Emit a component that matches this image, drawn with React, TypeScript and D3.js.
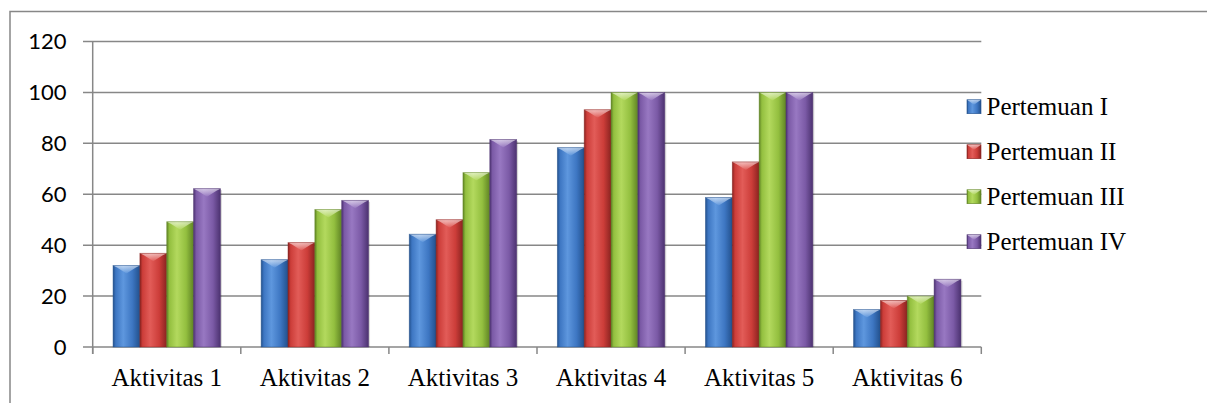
import React from 'react';
import * as d3 from 'd3';

const categories = ['Aktivitas 1', 'Aktivitas 2', 'Aktivitas 3', 'Aktivitas 4', 'Aktivitas 5', 'Aktivitas 6'];
const seriesNames = ['Pertemuan I', 'Pertemuan II', 'Pertemuan III', 'Pertemuan IV'];
const pertemuan1 = [32, 34.3, 44.3, 78.3, 58.7, 14.7];
const pertemuan2 = [36.8, 41, 50, 93.2, 72.7, 18.3];
const pertemuan3 = [49.2, 54, 68.5, 100, 100, 20];
const pertemuan4 = [62.2, 57.6, 81.5, 100, 100, 26.6];
const yTicks = [0, 20, 40, 60, 80, 100, 120];

const seriesValues = [pertemuan1, pertemuan2, pertemuan3, pertemuan4];
// base, light, dark per series
const palette = [
  ['#3d76c2', '#5e97de', '#22508c'],
  ['#cc3d39', '#e25c58', '#8a2320'],
  ['#93bf3f', '#b3d95e', '#5f8324'],
  ['#7b5aa6', '#9878c2', '#4c3270'],
];

const W = 1207;
const H = 403;
const left = 92.7;
const right = 981.3;
const top = 41.5;
const bottom = 347;

const App = () => {
  const x = d3.scaleBand().domain(categories).range([left, right]).paddingInner(0.275).paddingOuter(0.1375);
  const xs = d3.scaleBand().domain(seriesNames).range([0, x.bandwidth()]).padding(0);
  const y = d3.scaleLinear().domain([0, 120]).range([bottom, top]);
  const step = x.step();
  const tickXs = d3.range(categories.length + 1).map((i) => left + i * step);
  const grid = '#878787';

  const legendY = d3.scalePoint().domain(seriesNames).range([106.7, 241.7]);

  return (
    <div style={{ position: 'absolute', left: 0, top: 0, width: W, height: H, fontFamily: 'Times New Roman' }}>
      <svg width={W} height={H} style={{ display: 'block', background: '#fff' }}>
        <defs>
          {palette.map((p, i) => (
            <React.Fragment key={i}>
              <linearGradient id={`body${i}`} x1="0" x2="1" y1="0" y2="0">
                <stop offset="0%" stopColor={p[2]} />
                <stop offset="10%" stopColor={p[0]} />
                <stop offset="38%" stopColor={p[1]} />
                <stop offset="72%" stopColor={p[0]} />
                <stop offset="100%" stopColor={p[2]} />
              </linearGradient>
              <linearGradient id={`cap${i}`} x1="0" x2="0" y1="0" y2="1">
                <stop offset="0%" stopColor="#fff" stopOpacity={0.6} />
                <stop offset="100%" stopColor={p[1]} stopOpacity={0.7} />
              </linearGradient>
            </React.Fragment>
          ))}
        </defs>

        <rect x={10} y={11.5} width={W + 10} height={H + 10} fill="none" stroke={grid} strokeWidth={1.5} />

        {yTicks.map((t) => (
          <g key={t}>
            <line x1={83} x2={right} y1={y(t)} y2={y(t)} stroke={grid} strokeWidth={1.5} />
            <text x={66.5} y={y(t)} dy="0.36em" textAnchor="end" fontFamily="Lato" fontSize={22} fill="#000">
              {t}
            </text>
          </g>
        ))}
        <line x1={left} x2={left} y1={top} y2={bottom + 7} stroke={grid} strokeWidth={1.5} />
        {tickXs.map((tx, i) => (
          <line key={i} x1={tx} x2={tx} y1={bottom} y2={bottom + 7} stroke={grid} strokeWidth={1.5} />
        ))}

        {categories.map((c, ci) => (
          <g key={c} transform={`translate(${x(c)},0)`}>
            {seriesNames.map((s, si) => {
              const v = seriesValues[si][ci];
              const bx = xs(s) as number;
              const bw = xs.bandwidth();
              const by = y(v);
              const bh = bottom - by;
              const cap = Math.min(8, bh);
              return (
                <g key={s}>
                  <rect x={bx + 1.5} y={by + 1.5} width={bw} height={bh - 1.5} fill="#000" opacity={0.15} />
                  <rect x={bx} y={by} width={bw} height={bh} fill={`url(#body${si})`} />
                  <polygon
                    points={`${bx},${by} ${bx + bw},${by} ${bx + bw - 4},${by + 2} ${bx + bw / 2},${by + cap} ${bx + 4},${by + 2}`}
                    fill={`url(#cap${si})`}
                  />
                  <rect x={bx} y={by} width={bw} height={bh} fill="none" stroke={palette[si][2]} strokeOpacity={0.6} strokeWidth={0.8} />
                </g>
              );
            })}
            <text x={x.bandwidth() / 2} y={386} textAnchor="middle" fontFamily="Times New Roman" fontSize={25} fill="#000">
              {c}
            </text>
          </g>
        ))}

        {seriesNames.map((s, si) => {
          const ly = legendY(s) as number;
          return (
            <g key={s}>
              <rect x={967} y={ly - 7} width={14} height={14} fill={`url(#body${si})`} stroke={palette[si][2]} strokeWidth={0.6} />
              <polygon points={`967,${ly - 7} 981,${ly - 7} 974,${ly - 2}`} fill={`url(#cap${si})`} />
              <text x={986.5} y={ly} dy="0.33em" fontFamily="Liberation Serif" fontSize={25} fill="#000">
                {s}
              </text>
            </g>
          );
        })}
      </svg>
    </div>
  );
};

export default App;
